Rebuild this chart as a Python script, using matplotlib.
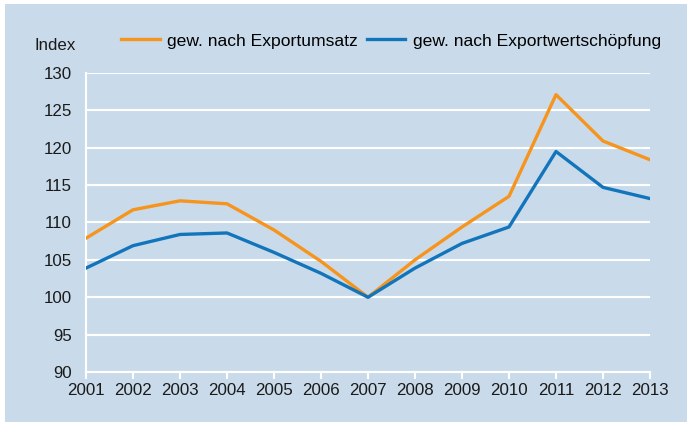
import matplotlib.pyplot as plt
from matplotlib.patches import Rectangle

years = list(range(2001, 2014))
umsatz = [107.9, 111.7, 112.9, 112.5, 109.0, 104.8, 100.0, 105.0, 109.4, 113.5, 127.1, 120.9, 118.4]
wertschoepfung = [103.9, 106.9, 108.4, 108.6, 106.0, 103.2, 100.0, 103.9, 107.2, 109.4, 119.5, 114.7, 113.2]
yticks = [90, 95, 100, 105, 110, 115, 120, 125, 130]

bg = '#c9dbea'
orange = '#f7941d'
blue = '#1275bb'

plt.rcParams['font.family'] = ['Liberation Sans', 'DejaVu Sans']

fig = plt.figure(figsize=(6.88, 4.26), dpi=100, facecolor='white')
fig.add_artist(Rectangle((5 / 688, 4 / 426), 682 / 688, 418 / 426,
                         transform=fig.transFigure, facecolor=bg, edgecolor='none', zorder=-5))

ax = fig.add_axes([86 / 688, 54 / 426, 564 / 688, 299 / 426], zorder=2)
ax.set_facecolor(bg)

ax.plot(years, umsatz, color=orange, lw=2.4, label='gew. nach Exportumsatz', zorder=3)
ax.plot(years, wertschoepfung, color=blue, lw=2.4, label='gew. nach Exportwertschöpfung', zorder=3)

ax.set_xlim(2001, 2013)
ax.set_ylim(90, 130)
ax.set_yticks(yticks)
ax.set_xticks(years)
ax.yaxis.grid(True, color='white', lw=1.5)
ax.set_axisbelow(True)

for s in ['top', 'right']:
    ax.spines[s].set_visible(False)
for s in ['left', 'bottom']:
    ax.spines[s].set_color('white')
    ax.spines[s].set_linewidth(1.5)

ax.tick_params(axis='x', colors='white', length=5, width=1.5, labelcolor='#1a1a1a',
               labelsize=12.2, pad=3)
ax.tick_params(axis='y', length=0, labelcolor='#1a1a1a', labelsize=12.2, pad=10)

fig.text(34 / 688, 1 - 45 / 426, 'Index', fontsize=12.2, color='#1a1a1a', va='center')

ax.legend(loc='center left', bbox_to_anchor=(35 / 564, 1 + 32 / 299), ncol=2, frameon=False,
          fontsize=12.6, handlelength=2.2, handletextpad=0.45, columnspacing=0.5,
          borderaxespad=0, borderpad=0)

fig.savefig('out.png', dpi=100, facecolor='white')
